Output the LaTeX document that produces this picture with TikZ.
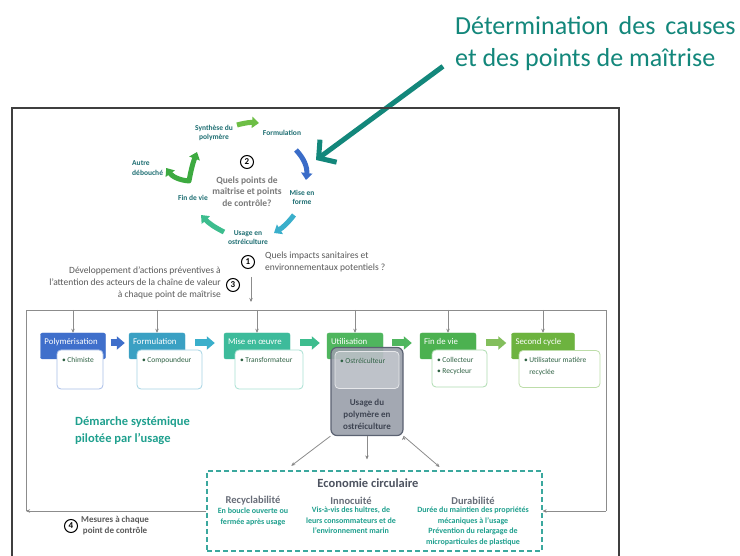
\documentclass[tikz,border=0pt]{standalone}
\usepackage{fontspec}
\setmainfont{Carlito}
\usepackage{tikz}
\usetikzlibrary{arrows.meta}
\usetikzlibrary{positioning}

\definecolor{titleteal}{HTML}{13877B}
\definecolor{cyclegreen}{HTML}{6DBE45}
\definecolor{cycleblue}{HTML}{3A6CC8}
\definecolor{cyclecyan}{HTML}{3AAFCB}
\definecolor{cycleteal}{HTML}{3DBD8E}
\definecolor{checkgreen}{HTML}{3DAA40}
\definecolor{labelteal}{HTML}{1F6F73}
\definecolor{qgray}{HTML}{7A7A7A}
\definecolor{textgray}{HTML}{5A5A5A}
\definecolor{linegray}{HTML}{8C8C8C}
\definecolor{polyblue}{HTML}{3F6FCB}
\definecolor{formteal}{HTML}{3AA0C3}
\definecolor{miseteal}{HTML}{3DBB9B}
\definecolor{utilgreen}{HTML}{4FB65E}
\definecolor{fingreen}{HTML}{4CB150}
\definecolor{secondgreen}{HTML}{6DB33F}
\definecolor{bullettext}{HTML}{2F6244}
\definecolor{usagegray}{HTML}{9A9FAA}
\definecolor{usageedge}{HTML}{5B6272}
\definecolor{usagetext}{HTML}{3E4452}
\definecolor{ecoteal}{HTML}{3BA89E}
\definecolor{ecogray}{HTML}{4D5360}
\definecolor{subteal}{HTML}{1FA08E}
\definecolor{framegray}{HTML}{3F3F3F}

\tikzset{
    headline/.style={align=left, anchor=west, inner sep=0pt, text=titleteal,
        font={\fontsize{26pt}{32pt}\selectfont}},
    bigarrow/.style={draw=titleteal, line width=5pt, -{Straight Barb[length=12pt,width=28pt]}},
    cyclelabel/.style={align=center, inner sep=1pt, text=labelteal,
        font={\fontsize{7.5pt}{9.5pt}\selectfont\bfseries}},
    cyclearrow/.style={line width=5pt, -{Triangle[width=11pt,length=7pt]}},
    question/.style={align=center, inner sep=1pt, text=qgray,
        font={\fontsize{9.5pt}{11.5pt}\selectfont\bfseries}},
    numcircle/.style={circle, draw=black, line width=1pt, inner sep=0pt, minimum size=13pt,
        font={\fontsize{9pt}{9pt}\selectfont\bfseries}},
    notetext/.style={inner sep=1pt, text=textgray, font={\fontsize{9.5pt}{12pt}\selectfont}},
    headbox/.style={rectangle, rounded corners=2pt, inner xsep=4pt, inner ysep=5pt,
        text=white, font={\fontsize{8.8pt}{10pt}\selectfont}},
    descbox/.style={rectangle, rounded corners=4pt, fill=white, line width=0.8pt,
        inner xsep=5pt, inner ysep=4pt, text=bullettext,
        font={\fontsize{7.5pt}{11.5pt}\selectfont}},
    usagebox/.style={rectangle, rounded corners=6pt, draw=usageedge, line width=1.2pt,
        fill=usagegray, fill opacity=0.9, text opacity=1, text=usagetext,
        inner xsep=5pt, inner ysep=6pt, font={\fontsize{9pt}{12pt}\selectfont\bfseries}},
    flowarrow/.style={line width=7pt, -{Triangle[width=13pt,length=8pt]}},
    droparrow/.style={draw=linegray, line width=0.8pt, -{Stealth[length=4pt,width=3.5pt]}},
    grayline/.style={draw=linegray, line width=0.8pt},
    demarche/.style={align=left, anchor=west, inner sep=0pt, text=subteal,
        font={\fontsize{12.5pt}{17pt}\selectfont\bfseries}},
    ecobox/.style={rectangle, draw=ecoteal, line width=1.2pt, dash pattern=on 5pt off 3pt,
        minimum width=335pt, minimum height=80pt, inner sep=0pt},
    ecotitle/.style={inner sep=1pt, text=ecogray, font={\fontsize{12.5pt}{15pt}\selectfont\bfseries}},
    ecohead/.style={inner sep=1pt, text=ecogray!85, font={\fontsize{10.5pt}{12pt}\selectfont\bfseries}},
    ecotext/.style={align=center, inner sep=1pt, text=subteal,
        font={\fontsize{8pt}{10.5pt}\selectfont\bfseries}},
    measure/.style={align=center, inner sep=1pt, text=textgray,
        font={\fontsize{9pt}{11pt}\selectfont\bfseries}},
}

\begin{document}
\begin{tikzpicture}[x=1pt,y=-1pt]
\useasboundingbox (0,0) rectangle (740,556);
\fill[white] (0,0) rectangle (740,556);

% title pointing into the cycle
\node[headline] (TITLE) at (455,44) {Détermination\hspace{4pt} des\hspace{4pt} causes\\et des points de maîtrise};
\coordinate (FOCUS) at (316,160);
\draw[bigarrow] ([shift={(-12,-5)}]TITLE.south west) -- (FOCUS);

% frame of the figure
\draw[framegray, line width=1.3pt] (12,556) -- (12,108) -- (619,108) -- (619,556);

% cycle of the polymer
\node[cyclelabel] (SYNTH) at (214,133) {Synthèse du\\polymère};
\node[cyclelabel] (FORMUL) at (282,133) {Formulation};
\node[cyclelabel] (MISE) at (302,197.5) {Mise en\\forme};
\node[cyclelabel] (USAGECYC) at (248,237.5) {Usage en\\ostréiculture};
\node[cyclelabel] (FINV) at (193,198) {Fin de vie};
\node[cyclelabel, align=left, anchor=west] (AUTRE) at (131,168) {Autre\\débouché};
\node[numcircle] (C2) at (247,162) {2};
\node[question] (QPOINTS) at (247,191.5) {Quels points de\\maîtrise et points\\de contrôle?};
\coordinate (FORK) at (189,181);

\path
([shift={(23,-8)}]SYNTH.center)      edge[cyclearrow, draw=cyclegreen, bend left=10]  ([shift={(-23,-10)}]FORMUL.center)
([shift={(14,17)}]FORMUL.center)     edge[cyclearrow, draw=cycleblue, bend left=25]   ([shift={(4,-17.5)}]MISE.center)
([shift={(-8,17.5)}]MISE.center)     edge[cyclearrow, draw=cyclecyan, bend left=10]   ([shift={(26,-4.5)}]USAGECYC.center)
([shift={(-24,-5.5)}]USAGECYC.center) edge[cyclearrow, draw=cycleteal, bend left=10]  ([shift={(8,17)}]FINV.center);
\draw[checkgreen, line width=5pt, line join=round, {Triangle[width=11pt,length=7pt]}-{Triangle[width=11pt,length=7pt]}]
    ([xshift=2pt]AUTRE.east) to[bend right=25] (FORK) to[bend left=5] ([shift={(-17,19)}]SYNTH.center);

% questions and actions
\node[numcircle] (C1) at (248,262) {1};
\node[notetext, anchor=west, align=left] (IMPACTS) at (264,262) {Quels impacts sanitaires et\\environnementaux potentiels ?};
\node[numcircle] (C3) at (233,285) {3};
\node[notetext, anchor=east, align=right] (ACTIONS) at (222,283) {Développement d'actions préventives à\\l'attention des acteurs de la chaîne de valeur\\à chaque point de maîtrise};

% chain of value
\coordinate (FRAMETL) at (26,310);
\coordinate (FRAMETR) at (606,310);
\coordinate (FRAMEBL) at (26,511);
\coordinate (FRAMEBR) at (606,511);

\node[headbox, fill=polyblue, draw=polyblue] (POLY) at (73,346) {\parbox[c][16pt][t]{57pt}{\raggedright\strut Polymérisation}};
\node[headbox, fill=formteal, draw=formteal, right of=POLY, node distance=84pt] (FORM) {\parbox[c][16pt][t]{48pt}{\raggedright\strut Formulation}};
\node[headbox, fill=miseteal, draw=miseteal, right of=FORM, node distance=100pt] (MISEOEUVRE) {\parbox[c][16pt][t]{58pt}{\raggedright\strut Mise en œuvre}};
\node[headbox, fill=utilgreen, draw=utilgreen, right of=MISEOEUVRE, node distance=98pt] (UTIL) {\parbox[c][16pt][t]{48pt}{\raggedright\strut Utilisation}};
\node[headbox, fill=fingreen, draw=fingreen, right of=UTIL, node distance=93pt] (FIN) {\parbox[c][16pt][t]{48pt}{\raggedright\strut Fin de vie}};
\node[headbox, fill=secondgreen, draw=secondgreen, right of=FIN, node distance=95pt] (SECOND) {\parbox[c][16pt][t]{55pt}{\raggedright\strut Second cycle}};

% actors of each step
\node[descbox, draw=polyblue!45, right of=POLY, node distance=7pt, yshift=-23.5pt] (CHIMISTE) {\parbox[c][31pt][t]{36pt}{\raggedright\strut• Chimiste}};
\node[descbox, draw=formteal!45, right of=FORM, node distance=12.5pt, yshift=-23.5pt] (COMPOUNDEUR) {\parbox[c][31pt][t]{55pt}{\raggedright\strut• Compoundeur}};
\node[descbox, draw=miseteal!45, right of=MISEOEUVRE, node distance=12pt, yshift=-23.5pt] (TRANSFO) {\parbox[c][31pt][t]{58pt}{\raggedright\strut• Transformateur}};
\node[descbox, draw=fingreen!45, right of=FIN, node distance=11.5pt, yshift=-22.5pt] (COLLECT) {\parbox[c][29pt][t]{45pt}{\raggedright\strut• Collecteur\\• Recycleur}};
\node[descbox, draw=secondgreen!45, right of=SECOND, node distance=16.5pt, yshift=-23pt] (RECYCLEE) {\parbox[c][29pt][t]{71pt}{\raggedright\strut• Utilisateur matière\\\phantom{• }recyclée}};

\node[usagebox, right of=UTIL, node distance=12pt, yshift=-45.5pt] (USAGE) {\parbox[c][76pt][b]{62pt}{\centering Usage du\\polymère en\\ostréiculture}};
\node[descbox, fill opacity=0.3, text opacity=1, draw=white!75!usagegray, right of=UTIL, node distance=12pt, yshift=-24pt] (OSTREI) {\parbox[c][29pt][t]{54pt}{\raggedright\strut• Ostréiculteur}};

\draw[flowarrow, polyblue] ([shift={(5,-3)}]POLY.east) -- ([shift={(-4,-3)}]FORM.west);
\draw[flowarrow, cyclecyan] ([shift={(10,-3)}]FORM.east) -- ([shift={(-9,-3)}]MISEOEUVRE.west);
\draw[flowarrow, cycleteal] ([shift={(10,-3)}]MISEOEUVRE.east) -- ([shift={(-7,-3)}]UTIL.west);
\draw[flowarrow, utilgreen] ([shift={(9,-3)}]UTIL.east) -- ([shift={(-8,-3)}]FIN.west);
\draw[flowarrow, secondgreen!85!white] ([shift={(10,-3)}]FIN.east) -- ([shift={(-5,-3)}]SECOND.west);

\node[demarche] (DEMARCHE) at (75,431) {Démarche systémique\\pilotée par l'usage};

% circular economy
\node[ecobox] (ECO) at (374.5,511) {};
\node[ecotitle] (ECOTITLE) at (368,483) {Economie circulaire};
\node[ecohead] (RECYC) at (253,500.5) {Recyclabilité};
\node[ecotext, below=0.5pt of RECYC] (RECYCTXT) {En boucle ouverte ou\\fermée après usage};
\node[ecohead] (INNOC) at (351,500.5) {Innocuité};
\node[ecotext, below=0.5pt of INNOC] (INNOCTXT) {Vis-à-vis des huîtres, de\\leurs consommateurs et de\\l'environnement marin};
\node[ecohead] (DURAB) at (473,500.5) {Durabilité};
\node[ecotext, below=0.5pt of DURAB] (DURABTXT) {Durée du maintien des propriétés\\mécaniques à l'usage\\Prévention du relargage de\\microparticules de plastique};

\node[numcircle] (C4) at (71,526) {4};
\node[measure, right=2pt of C4] (MESURES) {Mesures à chaque\\point de contrôle};

% gray loop of the approach
\draw[grayline] (FRAMEBL) -- (FRAMETL) -- (FRAMETR) -- (FRAMEBR);
\path[droparrow]
([xshift=3pt]C1.south)  edge[shorten <=8pt, shorten >=8pt]  ([xshift=3pt]C1.south |- FRAMETL)
(POLY.north |- FRAMETL)       edge  (POLY.north)
(FORM.north |- FRAMETL)       edge  (FORM.north)
(MISEOEUVRE.north |- FRAMETL) edge  (MISEOEUVRE.north)
(UTIL.north |- FRAMETL)       edge  (UTIL.north)
(FIN.north |- FRAMETL)        edge  (FIN.north)
(SECOND.north |- FRAMETL)     edge  (SECOND.north)
(ECO.west)                    edge  (FRAMEBL)
(FRAMEBR)                     edge  (ECO.east)
(USAGE.south west)            edge[shorten >=48pt]  (RECYC.north)
(USAGE.south)                 edge[shorten >=11pt]  (USAGE.south |- ECO.north)
(USAGE.south east)            edge[shorten >=44pt]  (DURAB.north);

\end{tikzpicture}
\end{document}
